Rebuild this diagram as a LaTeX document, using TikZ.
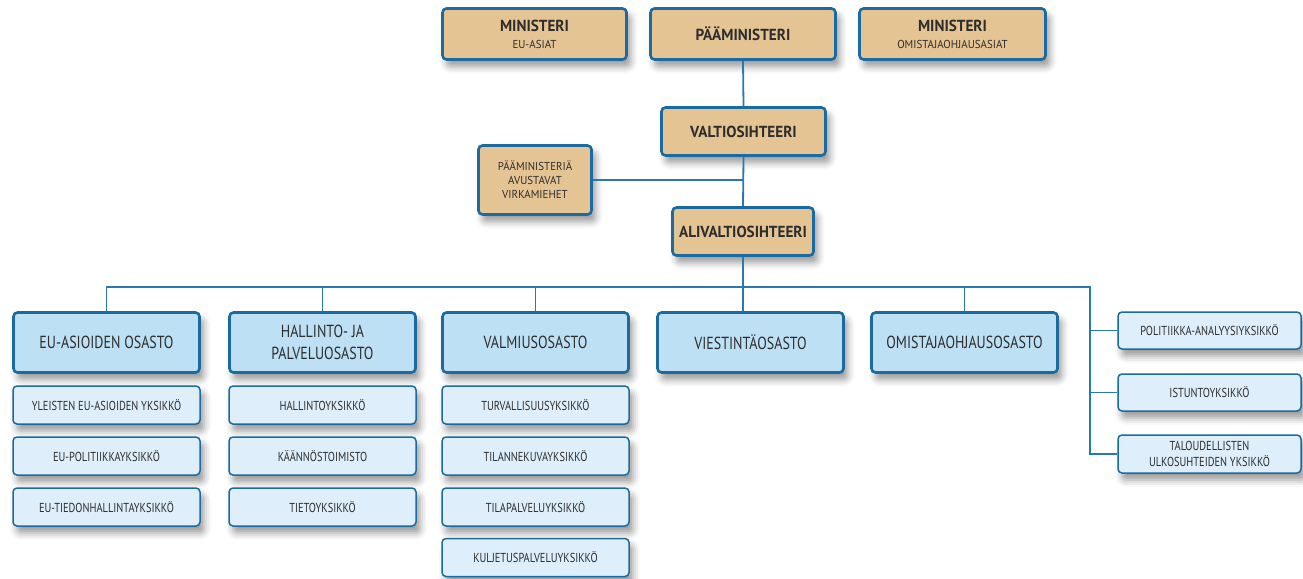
\documentclass[tikz,border=0pt]{standalone}
\usepackage{fontspec}
\setmainfont{PT Sans}[FakeStretch=0.8]
\newfontfamily\hdfont{PT Sans}[FakeStretch=0.95]
\usetikzlibrary{shadows.blur}
\definecolor{boxtan}{RGB}{229,196,148}
\definecolor{bordercol}{RGB}{27,106,160}
\definecolor{linecol}{RGB}{40,120,178}
\definecolor{deptfill}{RGB}{190,224,244}
\definecolor{subfill}{RGB}{222,238,250}
\definecolor{textcol}{RGB}{45,45,45}
\tikzset{
  box/.style={draw=bordercol, rounded corners=4pt, align=center, inner sep=0pt, text=textcol,
    blur shadow={shadow xshift=4pt, shadow yshift=-7pt, shadow blur radius=7pt, shadow opacity=40}},
  topbox/.style={box, fill=boxtan, line width=2.6pt, font=\hdfont\bfseries\fontsize{16}{17}\selectfont},
  smalltxt/.style={font=\hdfont\fontsize{11.5}{14}\selectfont},
  dept/.style={box, fill=deptfill, line width=2.6pt, font=\fontsize{17.5}{22}\selectfont,
    minimum width=186pt, minimum height=60pt},
  unit/.style={box, fill=subfill, line width=1.5pt, font=\fontsize{13}{15.5}\selectfont,
    minimum width=187pt, minimum height=38pt},
  conn/.style={draw=linecol, line width=1.8pt}
}
\newcommand{\subt}[1]{{\mdseries\fontsize{11.5}{12}\selectfont #1}}
\begin{document}
\begin{tikzpicture}[x=1pt, y=-1pt]
\path[use as bounding box] (0,0) rectangle (1303,578);

% top level
\node[topbox, minimum width=184pt, minimum height=51pt] (minEU) at (534.5,34) {MINISTERI\\\subt{EU-ASIAT}};
\node[topbox, minimum width=185pt, minimum height=51pt] (pm) at (743,34) {PÄÄMINISTERI};
\node[topbox, minimum width=186pt, minimum height=51pt] (minOm) at (952.5,34) {MINISTERI\\\subt{OMISTAJAOHJAUSASIAT}};
\node[topbox, minimum width=164pt, minimum height=48pt] (valt) at (743.5,131.5) {VALTIOSIHTEERI};
\node[topbox, smalltxt, minimum width=113pt, minimum height=69pt] (avust) at (535,180) {PÄÄMINISTERIÄ\\AVUSTAVAT\\VIRKAMIEHET};
\node[topbox, minimum width=141pt, minimum height=48pt] (alival) at (743,231.5) {ALIVALTIOSIHTEERI};

% departments
\node[dept] (d1) at (106.5,342.5) {EU-ASIOIDEN OSASTO};
\node[dept] (d2) at (322.5,342.5) {HALLINTO- JA\\PALVELUOSASTO};
\node[dept] (d3) at (535.5,342.5) {VALMIUSOSASTO};
\node[dept] (d4) at (750.5,342.5) {VIESTINTÄOSASTO};
\node[dept] (d5) at (964.5,342.5) {OMISTAJAOHJAUSOSASTO};

% units
\node[unit] (u11) at (106.5,405) {YLEISTEN EU-ASIOIDEN YKSIKKÖ};
\node[unit] (u12) at (106.5,456) {EU-POLITIIKKAYKSIKKÖ};
\node[unit] (u13) at (106.5,507) {EU-TIEDONHALLINTAYKSIKKÖ};
\node[unit] (u21) at (322.5,405) {HALLINTOYKSIKKÖ};
\node[unit] (u22) at (322.5,456) {KÄÄNNÖSTOIMISTO};
\node[unit] (u23) at (322.5,507) {TIETOYKSIKKÖ};
\node[unit] (u31) at (535.5,405) {TURVALLISUUSYKSIKKÖ};
\node[unit] (u32) at (535.5,456) {TILANNEKUVAYKSIKKÖ};
\node[unit] (u33) at (535.5,507) {TILAPALVELUYKSIKKÖ};
\node[unit] (u34) at (535.5,557.5) {KULJETUSPALVELUYKSIKKÖ};
\node[unit, minimum width=183pt, minimum height=37pt] (r1) at (1209.5,330.5) {POLITIIKKA-ANALYYSIYKSIKKÖ};
\node[unit, minimum width=183pt, minimum height=37pt] (r2) at (1209.5,392.5) {ISTUNTOYKSIKKÖ};
\node[unit, minimum width=183pt, minimum height=38pt] (r3) at (1209.5,454) {TALOUDELLISTEN\\ULKOSUHTEIDEN YKSIKKÖ};

% connectors
\coordinate (busR) at (1090,287);
\draw[conn] (pm.south) -- (valt.north);
\draw[conn] (valt.south) -- (alival.north);
\draw[conn] (avust.east) -- (avust.east -| valt.south);
\draw[conn] (alival.south) -- (alival.south |- d4.north);
\draw[conn] (d1.north) |- (busR) |- (r3.west);
\draw[conn] (d2.north) -- (d2.north |- busR);
\draw[conn] (d3.north) -- (d3.north |- busR);
\draw[conn] (d5.north) -- (d5.north |- busR);
\draw[conn] (r1.west -| busR) -- (r1.west);
\draw[conn] (r2.west -| busR) -- (r2.west);
\end{tikzpicture}
\end{document}
